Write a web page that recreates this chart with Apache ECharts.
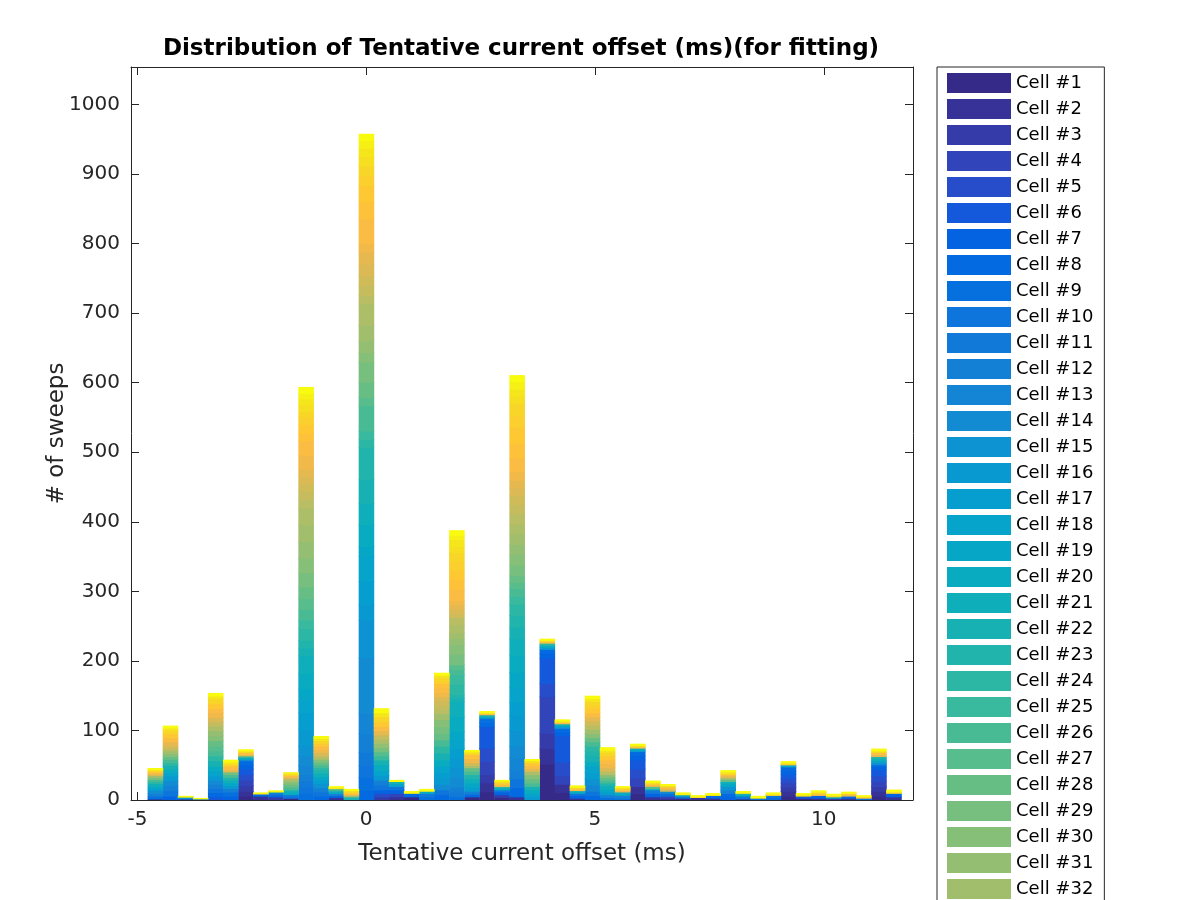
<!DOCTYPE html>
<html>
<head>
<meta charset="utf-8">
<script src="https://cdn.jsdelivr.net/npm/echarts@6/dist/echarts.min.js"></script>
<style>html,body{margin:0;padding:0;background:#fff}#chart{width:1200px;height:900px}</style>
</head>
<body>
<div id="chart"></div>
<script>
// ---- Data ----
const titleText = 'Distribution of Tentative current offset (ms)(for fitting)';
const xAxisName = 'Tentative current offset (ms)';
const yAxisName = '# of sweeps';
const xTickValues = [-5, 0, 5, 10];
const yTickValues = [0, 100, 200, 300, 400, 500, 600, 700, 800, 900, 1000];
const cellCount = 48;
const cellNames = Array.from({length: cellCount}, (_, i) => 'Cell #' + (i + 1));

// bin centres (ms) and bin width (ms)
const binWidth = 0.3294;
const binCenters = [-4.612, -4.282, -3.953, -3.623, -3.294, -2.965, -2.635, -2.306, -1.976, -1.647,
  -1.318, -0.988, -0.659, -0.329, 0, 0.329, 0.659, 0.988, 1.318, 1.647,
  1.976, 2.306, 2.635, 2.965, 3.294, 3.623, 3.953, 4.282, 4.612, 4.941,
  5.27, 5.6, 5.929, 6.259, 6.588, 6.917, 7.247, 7.576, 7.906, 8.235,
  8.564, 8.894, 9.223, 9.553, 9.882, 10.211, 10.541, 10.87, 11.2, 11.529];

// per bin: [cell number, sweep count] pairs (estimated from the colour bands)
const binStacks = [
  [[2,2],[9,4],[12,4],[14,4],[17,3],[19,3],[21,4],[24,3],[26,3],[29,3],[32,3],[38,2],[40,2],[42,2],[45,2],[48,2]],
  [[7,6],[10,8],[12,7],[14,7],[16,7],[18,5],[20,5],[22,5],[24,4],[26,5],[28,4],[30,4],[32,4],[34,3],[36,4],[38,6],[40,6],[42,6],[44,5],[46,3],[48,3]],
  [[3,2],[10,1],[20,1],[30,1],[48,1]],
  [[8,2],[48,1]],
  [[6,5],[8,6],[10,6],[12,6],[14,6],[16,6],[18,7],[20,7],[22,8],[24,7],[26,7],[27,7],[28,8],[30,7],[31,7],[33,7],[35,6],[37,6],[39,7],[40,6],[42,7],[44,7],[46,4],[48,4]],
  [[7,6],[9,6],[12,5],[16,4],[19,4],[21,4],[23,4],[26,4],[29,4],[38,3],[40,4],[42,3],[45,3],[47,2],[48,2]],
  [[1,6],[2,7],[3,8],[4,8],[5,8],[6,8],[7,6],[8,6],[14,2],[20,3],[26,2],[38,2],[41,3],[45,2],[48,2]],
  [[2,6],[8,3],[44,1],[48,1]],
  [[3,5],[8,3],[11,3],[22,1],[46,1],[48,1]],
  [[1,3],[10,5],[20,4],[22,3],[26,4],[28,4],[30,4],[33,4],[37,2],[40,3],[44,2],[47,2]],
  [[9,10],[10,9],[11,9],[12,9],[13,13],[14,14],[15,14],[16,24],[17,24],[18,17],[19,17],[20,22],[21,26],[22,11],[23,11],[24,17],[25,12],[26,15],[27,16],[28,17],[29,20],[30,21],[31,24],[32,24],[33,24],[34,12],[35,12],[36,11],[37,11],[38,10],[39,20],[40,21],[41,11],[42,12],[43,11],[44,8],[45,9],[46,9],[47,8],[48,9]],
  [[8,6],[10,6],[12,6],[15,6],[17,5],[19,5],[21,5],[23,5],[24,3],[26,4],[28,4],[30,4],[33,3],[35,3],[37,4],[39,4],[40,5],[42,4],[44,4],[46,3],[48,3]],
  [[2,4],[7,3],[12,3],[20,3],[24,2],[28,2],[45,1],[48,2]],
  [[22,4],[26,2],[36,2],[40,2],[43,2],[45,2],[48,2]],
  [[8,14],[9,19],[10,17],[11,19],[12,27],[13,29],[14,80],[15,54],[16,22],[17,34],[18,36],[19,14],[20,31],[21,31],[22,34],[23,46],[24,12],[25,12],[26,36],[27,12],[28,22],[29,29],[30,14],[31,17],[32,22],[33,31],[34,12],[35,14],[36,14],[37,17],[38,17],[39,12],[40,36],[41,24],[42,24],[43,14],[44,14],[45,14],[46,12],[47,11],[48,9]],
  [[3,5],[5,5],[7,5],[10,7],[12,7],[16,7],[18,7],[20,8],[22,7],[25,6],[27,6],[29,6],[31,6],[33,6],[35,6],[38,6],[40,6],[42,7],[44,7],[46,6],[48,6]],
  [[2,5],[4,5],[7,5],[10,5],[18,4],[22,3],[48,2]],
  [[1,5],[8,5],[46,1],[48,2]],
  [[9,5],[11,5],[20,3],[47,1],[48,2]],
  [[8,8],[10,7],[14,8],[16,9],[17,8],[18,9],[20,9],[22,10],[24,10],[26,9],[28,9],[29,10],[30,10],[32,9],[34,6],[35,6],[36,6],[37,6],[39,6],[40,7],[41,6],[43,4],[44,4],[45,3],[47,2],[48,2]],
  [[9,5],[11,7],[12,7],[14,14],[15,14],[16,14],[17,13],[18,13],[19,12],[20,21],[21,22],[22,5],[23,5],[24,15],[25,14],[26,7],[27,7],[29,15],[30,14],[31,9],[32,8],[33,11],[34,11],[36,6],[37,6],[38,6],[39,6],[40,16],[41,15],[42,13],[43,13],[44,12],[45,9],[46,10],[47,6],[48,7]],
  [[1,5],[8,4],[12,4],[17,6],[19,6],[21,6],[23,6],[26,5],[28,5],[33,3],[36,4],[39,6],[41,6],[44,2],[46,2],[48,2]],
  [[1,12],[2,13],[3,12],[4,19],[5,19],[6,31],[8,6],[9,6],[18,2],[22,3],[40,2],[46,1],[48,2]],
  [[1,4],[3,4],[7,4],[10,3],[20,3],[24,2],[40,3],[43,3],[46,2],[48,1]],
  [[2,5],[8,13],[10,13],[12,13],[13,17],[14,17],[15,22],[16,22],[17,19],[18,21],[19,22],[20,24],[21,24],[22,17],[23,17],[24,16],[25,11],[26,11],[27,9],[28,10],[29,15],[30,16],[31,14],[32,15],[33,14],[34,15],[35,13],[36,13],[37,11],[38,11],[39,12],[40,20],[41,21],[42,24],[43,17],[44,17],[45,10],[46,10],[47,11],[48,9]],
  [[16,5],[18,5],[20,5],[22,5],[26,5],[28,6],[30,6],[33,5],[38,4],[40,4],[42,4],[45,3],[48,2]],
  [[1,52],[2,22],[3,22],[4,53],[5,19],[6,36],[7,7],[8,6],[16,3],[20,3],[24,3],[40,2],[44,2],[48,2]],
  [[1,11],[2,12],[4,12],[5,20],[6,38],[7,5],[8,5],[14,2],[18,3],[22,2],[40,2],[45,2],[48,2]],
  [[2,3],[7,4],[10,3],[19,2],[22,2],[40,2],[43,2],[46,1],[48,2]],
  [[8,7],[10,6],[13,9],[15,9],[17,9],[18,9],[20,7],[22,8],[23,7],[24,7],[26,6],[28,6],[30,6],[32,6],[34,6],[36,6],[38,6],[40,6],[42,6],[43,4],[44,6],[46,4],[48,4]],
  [[9,4],[12,4],[17,4],[19,4],[21,5],[23,4],[26,4],[28,4],[30,4],[34,5],[37,5],[39,6],[40,5],[42,6],[44,5],[46,3],[48,4]],
  [[9,3],[12,4],[18,3],[21,2],[38,2],[41,2],[44,2],[48,2]],
  [[1,10],[2,10],[4,12],[5,13],[6,13],[7,6],[8,6],[16,2],[20,3],[40,2],[45,2],[48,2]],
  [[2,5],[7,5],[11,5],[22,2],[27,3],[39,2],[42,2],[45,2],[48,2]],
  [[2,3],[4,3],[9,4],[14,3],[36,3],[40,3],[44,2],[48,2]],
  [[1,3],[10,3],[21,2],[46,1],[48,2]],
  [[2,4],[44,1],[48,2]],
  [[2,3],[8,4],[47,1],[48,2]],
  [[7,5],[8,5],[12,5],[15,5],[19,4],[21,3],[28,3],[31,2],[37,3],[40,2],[44,2],[46,2],[48,2]],
  [[1,2],[10,4],[19,2],[23,2],[46,1],[48,2]],
  [[9,3],[46,1],[48,2]],
  [[8,4],[10,3],[44,2],[48,2]],
  [[1,6],[2,7],[3,6],[4,6],[5,6],[6,6],[7,5],[8,6],[18,2],[22,1],[40,1],[45,2],[48,2]],
  [[1,3],[6,3],[45,2],[48,2]],
  [[2,3],[7,4],[40,2],[43,2],[46,1],[48,2]],
  [[3,3],[20,2],[44,2],[48,2]],
  [[2,3],[8,3],[38,2],[42,2],[48,2]],
  [[9,3],[42,2],[48,2]],
  [[1,6],[2,7],[3,7],[4,7],[5,8],[6,9],[7,4],[8,3],[14,3],[18,3],[21,3],[23,3],[38,3],[41,3],[45,2],[48,3]],
  [[2,5],[7,5],[44,2],[48,3]]
];

// ---- Style: MATLAB parula colormap (64 entries) ----
const parula = [
[0.2081,0.1663,0.5292],[0.2116,0.1898,0.5777],[0.2123,0.2138,0.6270],[0.2081,0.2386,0.6771],
[0.1959,0.2645,0.7279],[0.1707,0.2919,0.7792],[0.1253,0.3242,0.8303],[0.0591,0.3598,0.8683],
[0.0117,0.3875,0.8820],[0.0060,0.4086,0.8828],[0.0165,0.4266,0.8786],[0.0329,0.4430,0.8720],
[0.0498,0.4586,0.8641],[0.0629,0.4737,0.8554],[0.0723,0.4887,0.8467],[0.0779,0.5040,0.8384],
[0.0793,0.5200,0.8312],[0.0749,0.5375,0.8263],[0.0641,0.5570,0.8240],[0.0488,0.5772,0.8228],
[0.0343,0.5966,0.8199],[0.0265,0.6137,0.8135],[0.0239,0.6287,0.8038],[0.0231,0.6418,0.7913],
[0.0228,0.6535,0.7768],[0.0267,0.6642,0.7607],[0.0384,0.6743,0.7436],[0.0590,0.6838,0.7254],
[0.0843,0.6928,0.7062],[0.1133,0.7015,0.6859],[0.1453,0.7098,0.6646],[0.1801,0.7177,0.6424],
[0.2178,0.7250,0.6193],[0.2586,0.7317,0.5954],[0.3022,0.7376,0.5712],[0.3482,0.7424,0.5473],
[0.3953,0.7459,0.5244],[0.4420,0.7481,0.5033],[0.4871,0.7491,0.4840],[0.5300,0.7491,0.4661],
[0.5709,0.7485,0.4494],[0.6099,0.7473,0.4337],[0.6473,0.7456,0.4188],[0.6834,0.7435,0.4044],
[0.7184,0.7411,0.3905],[0.7525,0.7384,0.3768],[0.7858,0.7356,0.3633],[0.8185,0.7327,0.3498],
[0.8507,0.7299,0.3360],[0.8824,0.7274,0.3217],[0.9139,0.7258,0.3063],[0.9450,0.7261,0.2886],
[0.9739,0.7314,0.2666],[0.9938,0.7455,0.2403],[0.9990,0.7653,0.2164],[0.9955,0.7861,0.1967],
[0.9880,0.8066,0.1794],[0.9789,0.8271,0.1633],[0.9697,0.8481,0.1475],[0.9626,0.8705,0.1309],
[0.9589,0.8949,0.1132],[0.9598,0.9218,0.0948],[0.9661,0.9514,0.0755],[0.9763,0.9831,0.0538]
];
function cellColor(i) {
  const t = cellCount > 1 ? i / (cellCount - 1) * 63 : 0;
  const a = Math.floor(t), b = Math.min(63, a + 1), f = t - a;
  const c = [0, 1, 2].map(k => Math.round(255 * (parula[a][k] * (1 - f) + parula[b][k] * f)));
  return 'rgb(' + c.join(',') + ')';
}

// dense per-cell counts, then stacked [x, bottom, top] per cell (cell 1 at the bottom)
const cellValues = Array.from({length: cellCount}, () => binCenters.map(() => 0));
binStacks.forEach((pairs, b) => pairs.forEach(([cell, n]) => { cellValues[cell - 1][b] += n; }));
const running = binCenters.map(() => 0);
const cellSegments = cellValues.map(vals => {
  const segs = [];
  vals.forEach((v, b) => {
    if (v > 0) { segs.push([binCenters[b], running[b], running[b] + v]); running[b] += v; }
  });
  return segs;
});

const FONT = 'DejaVu Sans';
const AX = '#262626';

function renderBar(params, api) {
  const x = api.value(0), y0 = api.value(1), y1 = api.value(2);
  const pA = api.coord([x - binWidth / 2, y0]);
  const pB = api.coord([x + binWidth / 2, y1]);
  return {
    type: 'rect',
    shape: {x: pA[0], y: pB[1], width: pB[0] - pA[0] + 0.5, height: pA[1] - pB[1] + 0.8},
    style: {fill: api.visual('color')}
  };
}

const series = cellNames.map((name, i) => ({
  type: 'custom',
  name: name,
  xAxisIndex: 0,
  yAxisIndex: 0,
  clip: true,
  renderItem: renderBar,
  encode: {x: 0, y: [1, 2]},
  itemStyle: {color: cellColor(i)},
  emphasis: {disabled: true},
  data: cellSegments[i]
}));

const xMin = -5.14, xMax = 11.95, yMin = 0, yMax = 1054;

const baseX = {
  type: 'value', min: xMin, max: xMax, gridIndex: 0,
  splitLine: {show: false},
  axisLine: {show: true, onZero: false, lineStyle: {color: AX, width: 1}},
  axisTick: {show: true, inside: true, length: 8, lineStyle: {color: AX}, customValues: xTickValues},
};
const baseY = {
  type: 'value', min: yMin, max: yMax, gridIndex: 0,
  splitLine: {show: false},
  axisLine: {show: true, onZero: false, lineStyle: {color: AX, width: 1}},
  axisTick: {show: true, inside: true, length: 8, lineStyle: {color: AX}, customValues: yTickValues},
};

const option = {
  animation: false,
  backgroundColor: '#ffffff',
  title: {
    text: titleText,
    left: 516, top: 33, textAlign: 'center',
    textStyle: {fontFamily: FONT, fontSize: 23, fontWeight: 'bold', color: '#000'}
  },
  legend: {
    type: 'plain', orient: 'vertical',
    left: 937, top: 67, height: 1500,
    itemWidth: 64, itemHeight: 20, itemGap: 6,
    padding: [6, 11, 6, 10],
    icon: 'rect',
    borderColor: AX, borderWidth: 1, backgroundColor: '#fff',
    selectedMode: false,
    textStyle: {fontFamily: FONT, fontSize: 18, color: '#000'},
    data: cellNames
  },
  grid: {left: 131, right: 287, top: 67, bottom: 100, containLabel: false},
  xAxis: [
    Object.assign({}, baseX, {
      position: 'bottom',
      axisLabel: {show: true, customValues: xTickValues, margin: 10, fontFamily: FONT, fontSize: 20, color: AX},
      name: xAxisName, nameLocation: 'middle', nameGap: 43, nameMoveOverlap: false,
      nameTextStyle: {fontFamily: FONT, fontSize: 23, color: AX}
    }),
    Object.assign({}, baseX, {position: 'top', axisLabel: {show: false}})
  ],
  yAxis: [
    Object.assign({}, baseY, {
      position: 'left',
      axisLabel: {show: true, customValues: yTickValues, margin: 11, fontFamily: FONT, fontSize: 20, color: AX,
        formatter: v => String(v)},
      name: yAxisName, nameLocation: 'middle', nameGap: 62, nameMoveOverlap: false,
      nameTextStyle: {fontFamily: FONT, fontSize: 23, color: AX}
    }),
    Object.assign({}, baseY, {position: 'right', axisLabel: {show: false}})
  ],
  series: series
};

const chart = echarts.init(document.getElementById('chart'), null, {renderer: 'canvas'});
chart.setOption(option);
</script>
</body>
</html>
